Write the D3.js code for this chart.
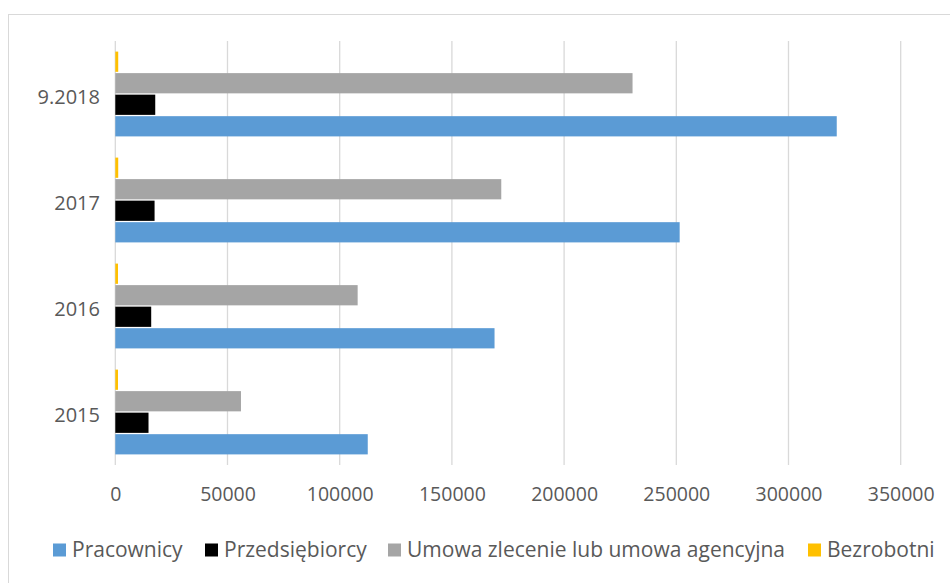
<!DOCTYPE html>
<html>
<head>
<meta charset="utf-8">
<script src="https://cdn.jsdelivr.net/npm/d3@7"></script>
<style>
  html, body { margin: 0; padding: 0; background: #ffffff; }
  svg { display: block; }
</style>
</head>
<body>
<svg id="chart" width="950" height="583"></svg>
<script>
// Categories, bottom to top
const categories = ["2015", "2016", "2017", "9.2018"];

// Series values per category (same order as categories)
const pracownicy = [112500, 169000, 251500, 321500];
const przedsiebiorcy = [14800, 16000, 17500, 17800];
const umowa = [56000, 108000, 172000, 230500];
const bezrobotni = [1200, 1200, 1300, 1300];

const seriesNames = ["Pracownicy", "Przedsiębiorcy", "Umowa zlecenie lub umowa agencyjna", "Bezrobotni"];
const seriesColors = ["#5b9bd5", "#000000", "#a5a5a5", "#ffc000"];
const seriesValues = [pracownicy, przedsiebiorcy, umowa, bezrobotni];

const xTicks = [0, 50000, 100000, 150000, 200000, 250000, 300000, 350000];

const svg = d3.select("#chart");
const font = "'Open Sans', 'Segoe UI', sans-serif";
const textColor = "#595959";
const gridColor = "#d9d9d9";

// Outer frame
svg.append("rect")
  .attr("x", 8.5).attr("y", 14.5)
  .attr("width", 960).attr("height", 600)
  .attr("fill", "#fff")
  .attr("stroke", gridColor);

const plotTop = 41, plotBottom = 465;

const x = d3.scaleLinear().domain([0, 350000]).range([115.3, 900.7]);

const y = d3.scaleBand()
  .domain(categories.slice().reverse())
  .range([plotTop, plotBottom])
  .paddingInner(0.2)
  .paddingOuter(0.1);

// Within each group the last series sits on top
const ySub = d3.scaleBand()
  .domain(seriesNames.slice().reverse())
  .range([0, y.bandwidth()])
  .paddingInner(0.06);

// Gridlines
svg.append("g")
  .selectAll("line")
  .data(xTicks)
  .join("line")
  .attr("x1", d => x(d)).attr("x2", d => x(d))
  .attr("y1", plotTop).attr("y2", plotBottom)
  .attr("stroke", gridColor)
  .attr("stroke-width", 1.3);

// Bars
const groups = svg.append("g")
  .selectAll("g")
  .data(categories)
  .join("g")
  .attr("transform", c => `translate(0,${y(c)})`);

groups.selectAll("rect")
  .data((c, i) => seriesNames.map((s, k) => ({ s, k, v: seriesValues[k][i] })))
  .join("rect")
  .attr("x", x(0))
  .attr("y", d => ySub(d.s))
  .attr("width", d => x(d.v) - x(0))
  .attr("height", ySub.bandwidth())
  .attr("fill", d => seriesColors[d.k]);

// Category labels
svg.append("g")
  .selectAll("text")
  .data(categories)
  .join("text")
  .attr("x", 100)
  .attr("y", c => y(c) + y.bandwidth() / 2 + 3)
  .attr("dy", "0.35em")
  .attr("text-anchor", "end")
  .attr("font-family", font)
  .attr("font-size", 20)
  .attr("fill", textColor)
  .text(c => c);

// Value axis labels
const xAxis = d3.axisBottom(x).tickValues(xTicks).tickSize(0).tickPadding(0).tickFormat(d3.format("d"));
const xg = svg.append("g").attr("transform", `translate(0,${494})`).call(xAxis);
xg.select(".domain").remove();
xg.selectAll("text")
  .attr("dy", "0.35em")
  .attr("y", 0)
  .attr("font-family", font)
  .attr("font-size", 19.5)
  .attr("fill", textColor);

// Legend
const legendItems = [
  { name: seriesNames[0], color: seriesColors[0], x: 53 },
  { name: seriesNames[1], color: seriesColors[1], x: 205 },
  { name: seriesNames[2], color: seriesColors[2], x: 388 },
  { name: seriesNames[3], color: seriesColors[3], x: 808 }
];
const legend = svg.append("g").selectAll("g").data(legendItems).join("g")
  .attr("transform", d => `translate(${d.x},550)`);
legend.append("rect")
  .attr("x", 0).attr("y", -6.5)
  .attr("width", 13).attr("height", 13)
  .attr("fill", d => d.color);
legend.append("text")
  .attr("x", 19).attr("y", 0)
  .attr("dy", "0.35em")
  .attr("font-family", font)
  .attr("font-size", 21)
  .attr("fill", textColor)
  .text(d => d.name);
</script>
</body>
</html>
